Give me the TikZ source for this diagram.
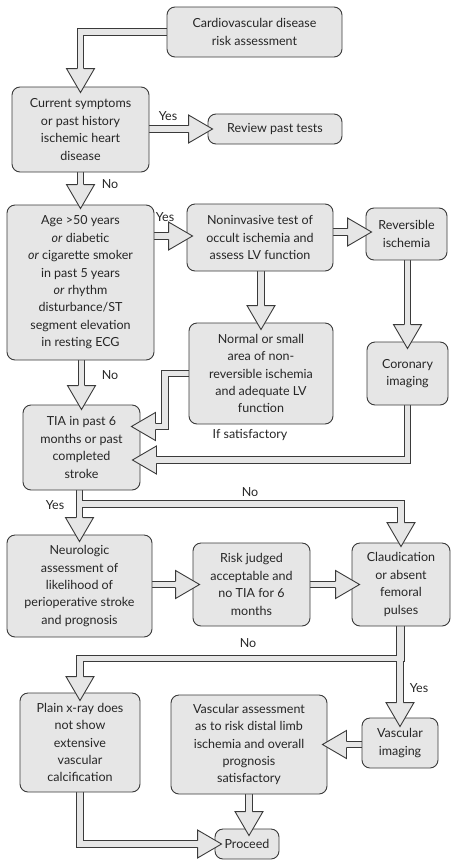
\documentclass[tikz,border=0pt]{standalone}
\usepackage{fontspec}
\setmainfont{Lato}
\usetikzlibrary{calc}
\definecolor{boxfill}{HTML}{E6E6E6}
\definecolor{edge}{HTML}{3A3A3A}
\definecolor{ink}{HTML}{262626}
\pgfdeclarelayer{bg}
\pgfdeclarelayer{fg}
\pgfsetlayers{bg,main,fg}
\tikzset{
  box/.style={draw=edge, fill=boxfill, line width=0.9pt, rounded corners=8pt,
    align=center, inner sep=0pt, text=ink},
  lbl/.style={text=ink, inner sep=0pt},
  shaftout/.style={draw=edge, line width=7.6pt, line cap=butt, line join=miter},
  shaftin/.style={draw=boxfill, line width=5.8pt, line cap=butt, line join=miter},
  ahead/.pic={
    \fill[boxfill] (0,0) -- (-24,14) -- (-24,-14) -- cycle;
    \draw[edge, line width=0.9pt, line join=miter]
      (-24,3.3) -- (-24,14) -- (0,0) -- (-24,-14) -- (-24,-3.3);
  }
}
\newcommand{\bx}[6]{\node[box, minimum width=#4pt, minimum height=#5pt] (#1) at (#2,#3) {#6};}
\begin{document}
\begin{tikzpicture}[x=1pt, y=-1pt, font=\fontsize{12.5}{17.4}\selectfont]
\useasboundingbox (0,0) rectangle (451,860);

% boxes
\bx{b1}{254.5}{32}{175}{50}{Cardiovascular disease\\risk assessment}
\bx{b2}{80.5}{129.5}{137}{85}{Current symptoms\\or past history\\ischemic heart\\disease}
\bx{b3}{275}{129}{134}{30}{Review past tests}
\bx{b4}{80.5}{282.5}{147}{155}{Age >50 years\\\textit{or} diabetic\\\textit{or} cigarette smoker\\in past 5 years\\\textit{or} rhythm\\disturbance/ST\\segment elevation\\in resting ECG}
\bx{b5}{260}{237.5}{146}{67}{Noninvasive test of\\occult ischemia and\\assess LV function}
\bx{b6}{406.5}{234}{81}{52}{Reversible\\ischemia}
\bx{b7}{407.5}{373.5}{81}{63}{Coronary\\imaging}
\bx{b8}{261}{373.5}{144}{101}{Normal or small\\area of non-\\reversible ischemia\\and adequate LV\\function}
\bx{b9}{81.5}{447.5}{117}{85}{TIA in past 6\\months or past\\completed\\stroke}
\bx{b10}{79.5}{586}{145}{102}{Neurologic\\assessment of\\likelihood of\\perioperative stroke\\and prognosis}
\bx{b11}{251.5}{584.5}{117}{83}{Risk judged\\acceptable and\\no TIA for 6\\months}
\bx{b12}{401}{584.5}{98}{83}{Claudication\\or absent\\femoral\\pulses}
\bx{b13}{80}{742.5}{120}{99}{Plain x-ray does\\not show\\extensive\\vascular\\calcification}
\bx{b14}{249}{744.5}{156}{99}{Vascular assessment\\as to risk distal limb\\ischemia and overall\\prognosis\\satisfactory}
\bx{b15}{400}{743}{76}{50}{Vascular\\imaging}
\bx{b16}{247}{844}{64}{30}{Proceed}

% labels
\node[lbl] (l1) at (168,116) {Yes};
\node[lbl] (l2) at (110,184) {No};
\node[lbl] (l3) at (165,217) {Yes};
\node[lbl] (l4) at (110,375) {No};
\node[lbl] (l5) at (250,435) {If satisfactory};
\node[lbl] (l6) at (250,492) {No};
\node[lbl] (l7) at (55,505) {Yes};
\node[lbl] (l8) at (248,643) {No};
\node[lbl] (l9) at (419,688) {Yes};

% arrow tips (t) and head bases (s)
\coordinate (t1) at ($(b2.north)+(0,6)$);   \coordinate (s1) at ($(t1)+(0,-24)$);
\coordinate (t2) at ($(b3.west)+(5,0)$);    \coordinate (s2) at ($(t2)+(-24,0)$);
\coordinate (t3) at ($(b4.north)+(0,4)$);   \coordinate (s3) at ($(t3)+(0,-24)$);
\coordinate (t4) at ($(b5.west)+(6,-1.5)$); \coordinate (s4) at ($(t4)+(-24,0)$);
\coordinate (t5) at ($(b6.west)+(6,-2)$);   \coordinate (s5) at ($(t5)+(-24,0)$);
\coordinate (t6) at ($(b7.north)+(0,7)$);   \coordinate (s6) at ($(t6)+(0,-24)$);
\coordinate (t7) at ($(b8.north)+(0,7)$);   \coordinate (s7) at ($(t7)+(0,-24)$);
\coordinate (t8) at ($(b9.east)+(-9,-21)$); \coordinate (s8) at ($(t8)+(24,0)$);
\coordinate (t9) at ($(b9.east)+(-8,12.5)$);\coordinate (s9) at ($(t9)+(24,0)$);
\coordinate (t10) at ($(b9.north)+(0,5)$);  \coordinate (s10) at ($(t10)+(0,-24)$);
\coordinate (t11) at ($(b10.north)+(0,7)$); \coordinate (s11) at ($(t11)+(0,-24)$);
\coordinate (t12) at ($(b12.north)+(0,4)$); \coordinate (s12) at ($(t12)+(0,-24)$);
\coordinate (t13) at ($(b11.west)+(7,0)$);  \coordinate (s13) at ($(t13)+(-24,0)$);
\coordinate (t14) at ($(b12.west)+(8,0)$);  \coordinate (s14) at ($(t14)+(-24,0)$);
\coordinate (t15) at ($(b13.north)+(0,8)$); \coordinate (s15) at ($(t15)+(0,-24)$);
\coordinate (t16) at ($(b15.north)+(0,9)$); \coordinate (s16) at ($(t16)+(0,-24)$);
\coordinate (t17) at ($(b14.east)+(-5,0)$); \coordinate (s17) at ($(t17)+(24,0)$);
\coordinate (t18) at ($(b14.south |- b16.north)+(0,7)$); \coordinate (s18) at ($(t18)+(0,-24)$);
\coordinate (t19) at ($(b16.west)+(7,0)$);  \coordinate (s19) at ($(t19)+(-24,0)$);
% bends
\coordinate (j8) at ($(b8.west)+(-23.5,0)$);
\coordinate (j12) at ($(b9.south)+(0,13.5)$);
\coordinate (j15) at ($(b12.south)+(0,32)$);

% shafts: outline pass, then fill pass, so that joined shafts merge cleanly
\newcommand{\shafts}[1]{%
  \draw[#1] (b1.west) -| (s1);
  \draw[#1] (b2.east |- s2) -- (s2);
  \draw[#1] (b2.south) -- (s3);
  \draw[#1] (b4.east |- s4) -- (s4);
  \draw[#1] (b5.east |- s5) -- (s5);
  \draw[#1] (s6 |- b6.south) -- (s6);
  \draw[#1] (s7 |- b5.south) -- (s7);
  \draw[#1] (b8.west) -- (j8) |- (s8);
  \draw[#1] (b7.south) |- (s9);
  \draw[#1] (s10 |- b4.south) -- (s10);
  \draw[#1] (s11 |- b9.south) -- (s11);
  \draw[#1] (s11 |- b9.south) |- (j12 -| s12) -- (s12);
  \draw[#1] (b10.east |- s13) -- (s13);
  \draw[#1] (b11.east |- s14) -- (s14);
  \draw[#1] (b12.south) -- (j15) -| (s15);
  \draw[#1] (s16 |- b12.south) -- (s16);
  \draw[#1] (b15.west |- s17) -- (s17);
  \draw[#1] (s18 |- b14.south) -- (s18);
  \draw[#1] (b13.south) |- (s19);
}
\begin{pgfonlayer}{bg}
  \shafts{shaftout}
  \shafts{shaftin}
\end{pgfonlayer}

% arrow heads
\begin{pgfonlayer}{fg}
  \foreach \t/\r in {t1/-90, t2/0, t3/-90, t4/0, t5/0, t6/-90, t7/-90, t8/180,
      t9/180, t10/-90, t11/-90, t12/-90, t13/0, t14/0, t15/-90, t16/-90,
      t17/180, t18/-90, t19/0}
    \pic[rotate=\r] at (\t) {ahead};
\end{pgfonlayer}
\end{tikzpicture}
\end{document}
